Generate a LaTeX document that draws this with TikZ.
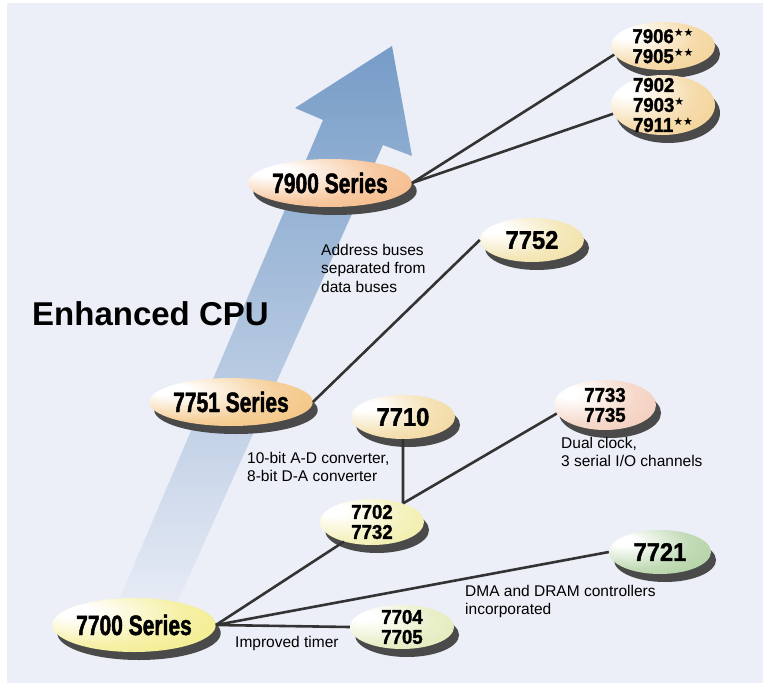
\documentclass[tikz,border=0pt]{standalone}
\usepackage{fontspec}
\setmainfont{Liberation Sans}
\newfontfamily\seriesfont[FakeStretch=0.75, BoldFeatures={FakeBold=1.6}]{Liberation Sans}
\newfontfamily\numfont[FakeStretch=0.93, BoldFeatures={FakeBold=1.4}]{Liberation Sans}
\newfontfamily\starfont{DejaVu Sans}
\usetikzlibrary{shapes.geometric,shadows}

\newlength{\du}
\setlength{\du}{1pt}

\definecolor{panelcolor}{RGB}{236,239,247}
\definecolor{linecolor}{RGB}{51,51,51}
\definecolor{shadowcolor}{RGB}{74,74,74}
\definecolor{arrowtop}{RGB}{118,156,199}
\definecolor{arrowbottom}{RGB}{232,236,246}
\definecolor{c7900}{RGB}{244,178,122}
\definecolor{c7906}{RGB}{242,205,138}
\definecolor{c7752}{RGB}{240,222,158}
\definecolor{c7751}{RGB}{242,188,112}
\definecolor{c7710}{RGB}{240,212,148}
\definecolor{c7733}{RGB}{242,200,180}
\definecolor{c7702}{RGB}{240,236,162}
\definecolor{c7721}{RGB}{168,204,152}
\definecolor{c7700}{RGB}{242,234,128}
\definecolor{c7704}{RGB}{224,232,178}

\colorlet{ellcol}{white}
\pgfdeclareradialshading[ellcol]{glossy}{\pgfpoint{-20bp}{14bp}}{%
  color(0bp)=(white); color(6bp)=(white); color(28bp)=(ellcol!70!white);
  color(50bp)=(ellcol); color(85bp)=(ellcol!90!black)}

\newcommand{\stars}[1]{\raisebox{6.5\du}{\starfont\fontsize{11}{11}\selectfont #1}}

\tikzset{
  chip/.style={ellipse, inner sep=0pt, align=left, text=black,
    /utils/exec={\colorlet{ellcol}{#1}}, shading=glossy,
    drop shadow={shadow xshift=5\du, shadow yshift=-8\du, fill=shadowcolor, opacity=1}},
  series/.style={chip=#1, minimum width=156\du, minimum height=48\du,
    font=\seriesfont\bfseries\fontsize{28}{28}\selectfont},
  single/.style={chip=#1, minimum width=104\du, minimum height=44\du,
    font=\numfont\bfseries\fontsize{25.5}{25.5}\selectfont},
  double/.style={chip=#1, minimum width=104\du, minimum height=48\du, inner ysep=-12\du,
    font=\numfont\bfseries\fontsize{20}{20}\selectfont},
  link/.style={draw=linecolor, line width=2.6\du},
  note/.style={anchor=north west, inner sep=0pt, align=left,
    font=\fontsize{15.5}{18.5}\selectfont},
}

\begin{document}
\begin{tikzpicture}[x=1\du,y=-1\du]
\useasboundingbox (0,0) rectangle (768,685);
\fill[panelcolor] (7,3) rectangle (763,683);
% the big arrow
\shade[top color=arrowtop, bottom color=arrowbottom] (392,46) -- (412,156) -- (383,145)
  -- (173,612) -- (114,612) -- (323,120) -- (295,108) -- cycle;

\node[series=c7900] (s7900) at (330,183) {7900 Series};
\node[double=c7906] (g7906) at (663,46) {7906\stars{★★}\\7905\stars{★★}};
\node[double=c7906, minimum height=60\du] (g7902) at (663,105) {7902\\7903\stars{★}\\7911\stars{★★}};
\node[single=c7752] (n7752) at (532,240) {7752};
\node[series=c7751] (s7751) at (231,402) {7751 Series};
\node[single=c7710] (n7710) at (403,417) {7710};
\node[double=c7733, minimum width=102\du, minimum height=50\du] (g7733) at (605,405) {7733\\7735};
\node[double=c7702, minimum height=46\du] (g7702) at (372,522) {7702\\7732};
\node[single=c7721, minimum width=102\du] (n7721) at (660,552) {7721};
\node[series=c7700, minimum width=162\du, minimum height=54\du] (s7700) at (134,625) {7700 Series};
\node[double=c7704, minimum height=44\du] (g7704) at (402,627) {7704\\7705};

\draw[link] (s7900.east) -- (g7906.190);
\draw[link] (s7900.east) -- (g7902.190);
\draw[link] (s7751.east) -- (n7752.west);
\draw[link] (n7710.south) -- (g7702.31);
\draw[link] (g7702.31) -- (g7733.190);
\draw[link] (s7700.east) -- (g7702.215);
\draw[link] (s7700.east) -- (n7721.west);
\draw[link] (s7700.east) -- (g7704.west);

\node[anchor=north west, inner sep=0pt, font=\bfseries\fontsize{33}{33}\selectfont] (cpu) at (32,301) {Enhanced CPU};
\node[note] (busnote) at (321,244) {Address buses\\separated from\\data buses};
\node[note] (adnote) at (247,452) {10-bit A-D converter,\\8-bit D-A converter};
\node[note] (clknote) at (561,437) {Dual clock,\\3 serial I/O channels};
\node[note] (dmanote) at (465,585) {DMA and DRAM controllers\\incorporated};
\node[note] (timernote) at (235,636) {Improved timer};
\end{tikzpicture}
\end{document}
